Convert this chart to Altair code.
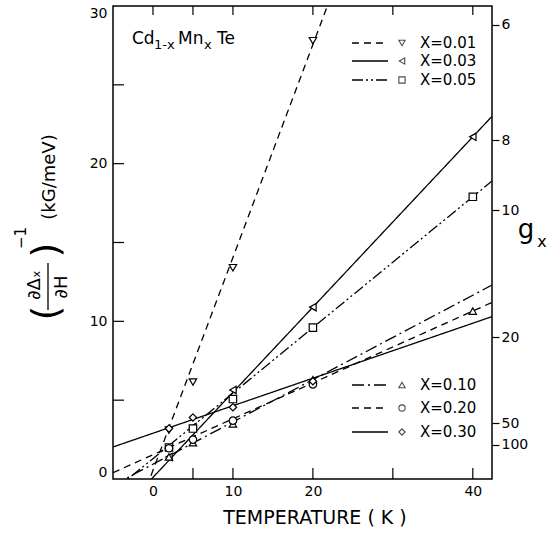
import altair as alt
import pandas as pd

# ---------------- values ----------------
series = ["X=0.01", "X=0.03", "X=0.05", "X=0.10", "X=0.20", "X=0.30"]

T_001 = [2, 5, 10, 20]
Y_001 = [3.1, 6.15, 13.4, 27.8]
T_003 = [2, 5, 10, 20, 40]
Y_003 = [1.4, 3.3, 5.65, 10.9, 21.7]
T_005 = [2, 5, 10, 20, 40]
Y_005 = [2.0, 3.2, 5.07, 9.6, 17.9]
T_010 = [2, 5, 10, 20, 40]
Y_010 = [1.4, 2.3, 3.5, 6.3, 10.65]
T_020 = [2, 5, 10, 20]
Y_020 = [1.95, 2.5, 3.7, 6.0]
T_030 = [2, 5, 10, 20]
Y_030 = [3.2, 3.9, 4.55, 6.2]

# fitted straight lines: values at the left and right frame edges
fit_T = [-5, 42.4]
fit_001 = [-6.2, 57.8]
fit_003 = [-2.6, 23.0]
fit_005 = [-0.78, 18.9]
fit_010 = [-0.4, 12.3]
fit_020 = [0.4, 11.2]
fit_030 = [2.03, 10.3]

x_labels = [0, 10, 20, 40]
x_ticks_bottom = [5, 10, 20, 30, 40]
x_ticks_top = [0, 5, 10, 20, 30, 40]
y_labels = [0, 10, 20, 30]
y_ticks = [5, 10, 15, 20, 25]
g_labels = ["6", "8", "10", "20", "50", "100"]
g_pos = [28.8, 21.5, 17.05, 9.0, 3.55, 2.16]

# ---------------- styles / layout ----------------
FONT = "DejaVu Sans"
W, H = 379, 473
shapes = ["triangle-down", "triangle-left", "square", "triangle-up", "circle", "diamond"]
dashes = [[7, 5], [1, 0], [11, 3, 2, 3, 2, 3], [12, 4, 2, 4], [7, 5], [1, 0]]

xs = alt.Scale(domain=[-5, 42.4], nice=False, zero=False)
ys = alt.Scale(domain=[0, 30], nice=False, zero=False)
dash_scale = alt.Scale(domain=series, range=dashes)
shape_scale = alt.Scale(domain=series, range=shapes)

x_axis = alt.Axis(values=x_labels, ticks=False, domain=False, grid=False,
                  labelFont=FONT, labelFontSize=14, labelColor="black",
                  labelPadding=5, labelFlush=False, title=None)
y_axis = alt.Axis(values=y_labels, ticks=False, domain=False, grid=False,
                  labelFont=FONT, labelFontSize=14, labelColor="black",
                  labelPadding=6, labelFlush=True, title=None)

pts = pd.concat([
    pd.DataFrame({"T": t, "y": y, "X": s})
    for t, y, s in zip([T_001, T_003, T_005, T_010, T_020, T_030],
                       [Y_001, Y_003, Y_005, Y_010, Y_020, Y_030], series)
])
fits = pd.concat([
    pd.DataFrame({"T": fit_T, "y": y, "X": s})
    for y, s in zip([fit_001, fit_003, fit_005, fit_010, fit_020, fit_030], series)
])

lines = alt.Chart(fits).mark_line(clip=True, color="black", strokeWidth=1.3).encode(
    x=alt.X("T:Q", scale=xs, axis=x_axis),
    y=alt.Y("y:Q", scale=ys, axis=y_axis),
    strokeDash=alt.StrokeDash("X:N", scale=dash_scale, legend=None),
    detail="X:N",
)

points = alt.Chart(pts).mark_point(filled=False, color="black", size=55, strokeWidth=1.2,
                                   fill="white", fillOpacity=1).encode(
    x=alt.X("T:Q", scale=xs, axis=x_axis),
    y=alt.Y("y:Q", scale=ys, axis=y_axis),
    shape=alt.Shape("X:N", scale=shape_scale, legend=None),
)

# inward ticks
lt = alt.Chart(pd.DataFrame({"v": y_ticks})).mark_rule(color="black", strokeWidth=1.2).encode(
    y=alt.Y("v:Q", scale=ys, axis=y_axis), x=alt.value(0), x2=alt.value(11))
bt = alt.Chart(pd.DataFrame({"v": x_ticks_bottom})).mark_rule(color="black", strokeWidth=1.2).encode(
    x=alt.X("v:Q", scale=xs, axis=x_axis), y=alt.value(H), y2=alt.value(H - 11))
tt = alt.Chart(pd.DataFrame({"v": x_ticks_top})).mark_rule(color="black", strokeWidth=1.2).encode(
    x=alt.X("v:Q", scale=xs, axis=x_axis), y=alt.value(0), y2=alt.value(9))

main = alt.layer(lines, points, lt, bt, tt)

# legend (layout in pixels)
leg_y = [37, 55, 74, 379, 402, 426]
leg = pd.DataFrame({"X": series, "ly": leg_y, "x1": [239] * 6, "x2": [275] * 6,
                    "mx": [289] * 6, "tx": [307] * 6})
leg_line = alt.Chart(leg).mark_rule(color="black", strokeWidth=1.3).encode(
    x=alt.X("x1:Q", scale=None, axis=None), x2="x2:Q", y=alt.Y("ly:Q", scale=None, axis=None),
    strokeDash=alt.StrokeDash("X:N", scale=dash_scale, legend=None))
leg_pt = alt.Chart(leg).mark_point(filled=False, color="black", size=40, strokeWidth=1.1).encode(
    x=alt.X("mx:Q", scale=None, axis=None), y=alt.Y("ly:Q", scale=None, axis=None),
    shape=alt.Shape("X:N", scale=shape_scale, legend=None))
leg_txt = alt.Chart(leg).mark_text(font=FONT, fontSize=15, align="left", baseline="middle",
                                   color="black").encode(
    x=alt.X("tx:Q", scale=None, axis=None), y=alt.Y("ly:Q", scale=None, axis=None), text="X:N")


def label(txt, x, y, size, angle=0, align="center", baseline="middle"):
    kw = dict(font=FONT, fontSize=size, align=align, baseline=baseline, color="black")
    if angle:
        kw["angle"] = angle
    return alt.Chart(pd.DataFrame({"t": [txt]})).mark_text(**kw).encode(
        x=alt.value(x), y=alt.value(y), text="t:N")


texts = [
    label("Cd", 19, 38, 17, align="left", baseline="alphabetic"),
    label("1-x", 41, 43, 13, align="left", baseline="alphabetic"),
    label("Mn", 65, 38, 17, align="left", baseline="alphabetic"),
    label("x", 91, 43, 13, align="left", baseline="alphabetic"),
    label("Te", 104, 38, 17, align="left", baseline="alphabetic"),
    label("TEMPERATURE ( K )", 202, 512, 19),
    label("g", 413, 224, 26),
    label("x", 429, 236, 16),
    label("(kG/meV)", -63, 171, 18, angle=270),
    label("(", -66, 307, 38, angle=270),
    label(")", -66, 244, 38, angle=270),
    label("\u22121", -92, 232, 15, angle=270),
    label("\u2202\u0394\u2093", -78, 279, 18, angle=270),
    label("\u2202H", -51, 281, 18, angle=270),
]
frac_bar = alt.Chart(pd.DataFrame({"a": [0]})).mark_rule(color="black", strokeWidth=1.3).encode(
    x=alt.value(-65), y=alt.value(257), y2=alt.value(304))

decor = alt.layer(leg_line, leg_pt, leg_txt, frac_bar, *texts)

g_expr = " : ".join(f"abs(datum.value - {p}) < 0.01 ? '{l}'" for p, l in zip(g_pos, g_labels)) + " : ''"
right_axis = alt.Chart(pd.DataFrame({"g": g_pos})).mark_point(opacity=0).encode(
    y=alt.Y("g:Q", scale=ys, axis=alt.Axis(orient="right", values=g_pos, labelExpr=g_expr,
                                           ticks=True, tickSize=7, tickColor="black", tickWidth=1.2,
                                           domain=False, grid=False, labelFont=FONT, labelFontSize=14,
                                           labelColor="black", labelPadding=2, labelFlush=False,
                                           title=None)))

chart = alt.layer(main, right_axis, decor).resolve_scale(y="independent").properties(
    width=W, height=H,
    padding={"left": 113, "top": 6, "right": 58, "bottom": 54},
    autosize=alt.AutoSizeParams(type="none"),
    background="white",
).configure_view(stroke="black", strokeWidth=1.5)

chart.save("out.html", embed_options={"renderer": "svg", "actions": False})
